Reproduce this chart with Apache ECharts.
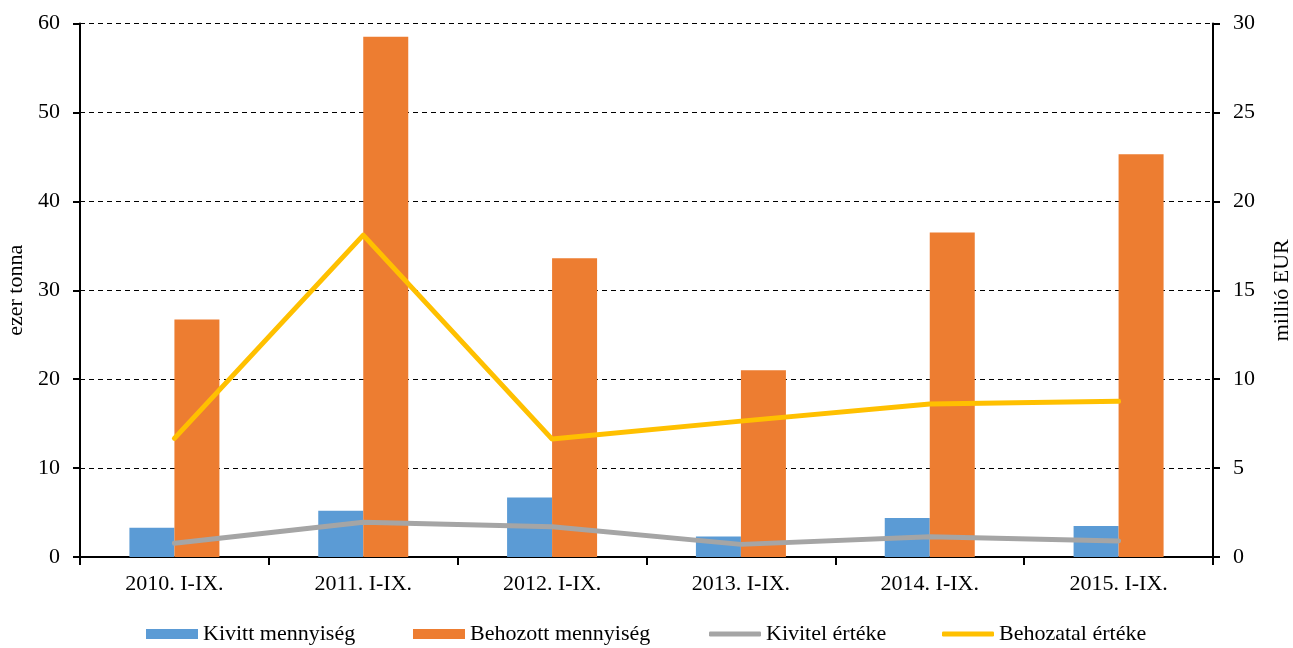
<!DOCTYPE html>
<html>
<head>
<meta charset="utf-8">
<script src="https://cdn.jsdelivr.net/npm/echarts@6/dist/echarts.min.js"></script>
<style>
html,body{margin:0;padding:0;background:#fff;}
#c{width:1293px;height:648px;}
</style>
</head>
<body>
<div id="c"></div>
<script>
const categories = ['2010. I-IX.', '2011. I-IX.', '2012. I-IX.', '2013. I-IX.', '2014. I-IX.', '2015. I-IX.'];
const kivittMennyiseg = [3.3, 5.2, 6.7, 2.3, 4.4, 3.5];
const behozottMennyiseg = [26.7, 58.5, 33.6, 21.0, 36.5, 45.3];
const kivitelErteke = [0.77, 1.95, 1.70, 0.71, 1.14, 0.90];
const behozatalErteke = [6.67, 18.1, 6.63, 7.64, 8.6, 8.76];
const seriesNames = ['Kivitt mennyiség', 'Behozott mennyiség', 'Kivitel értéke', 'Behozatal értéke'];
const leftAxisName = 'ezer tonna';
const rightAxisName = 'millió EUR';

const FONT = '"Liberation Serif", "Times New Roman", serif';
const FS = 22;
const colors = ['#5B9BD5', '#ED7D31', '#A5A5A5', '#FFC000'];

const chart = echarts.init(document.getElementById('c'));
const legendLefts = [146, 413, 709, 942];
const legends = seriesNames.map((n, i) => ({
  data: [n],
  left: legendLefts[i],
  top: 623,
  padding: 0,
  itemWidth: 52,
  itemHeight: i < 2 ? 10 : 5,
  icon: i < 2 ? 'rect' : 'roundRect',
  itemGap: 0,
  textStyle: { fontFamily: FONT, fontSize: FS, color: '#000' }
}));

chart.setOption({
  animation: false,
  color: colors,
  textStyle: { fontFamily: FONT, fontSize: FS, color: '#000' },
  legend: legends,
  grid: { left: 80, right: 80, top: 23.5, bottom: 91, containLabel: false, outerBoundsMode: 'none' },
  xAxis: {
    type: 'category',
    data: categories,
    axisLine: { lineStyle: { color: '#000', width: 2 } },
    axisTick: { show: true, length: 8, lineStyle: { color: '#000', width: 2 } },
    axisLabel: { fontFamily: FONT, fontSize: FS, color: '#000', margin: 16 }
  },
  yAxis: [
    {
      type: 'value', min: 0, max: 60, interval: 10,
      name: leftAxisName, nameLocation: 'middle', nameGap: 52, nameRotate: 90,
      nameTextStyle: { fontFamily: FONT, fontSize: FS, color: '#000' },
      axisLine: { show: true, lineStyle: { color: '#000', width: 2 } },
      axisTick: { show: true, length: 7, lineStyle: { color: '#000', width: 2 } },
      axisLabel: { fontFamily: FONT, fontSize: FS, color: '#000', margin: 20 },
      splitLine: { show: true, lineStyle: { color: '#000', width: 1, type: [5, 4] } }
    },
    {
      type: 'value', min: 0, max: 30, interval: 5, position: 'right',
      name: rightAxisName, nameLocation: 'middle', nameGap: 58, nameRotate: 90,
      nameTextStyle: { fontFamily: FONT, fontSize: FS, color: '#000' },
      axisLine: { show: true, lineStyle: { color: '#000', width: 2 } },
      axisTick: { show: true, length: 7, lineStyle: { color: '#000', width: 2 } },
      axisLabel: { fontFamily: FONT, fontSize: FS, color: '#000', margin: 20 },
      splitLine: { show: false }
    }
  ],
  series: [
    { name: seriesNames[0], type: 'bar', data: kivittMennyiseg, yAxisIndex: 0, barWidth: 45, barGap: '0%' },
    { name: seriesNames[1], type: 'bar', data: behozottMennyiseg, yAxisIndex: 0, barWidth: 45, barGap: '0%' },
    { name: seriesNames[2], type: 'line', data: kivitelErteke, yAxisIndex: 1, symbol: 'none', lineStyle: { width: 5, cap: 'round', join: 'round' }, z: 5 },
    { name: seriesNames[3], type: 'line', data: behozatalErteke, yAxisIndex: 1, symbol: 'none', lineStyle: { width: 5, cap: 'round', join: 'round' }, z: 5 }
  ]
});
</script>
</body>
</html>
